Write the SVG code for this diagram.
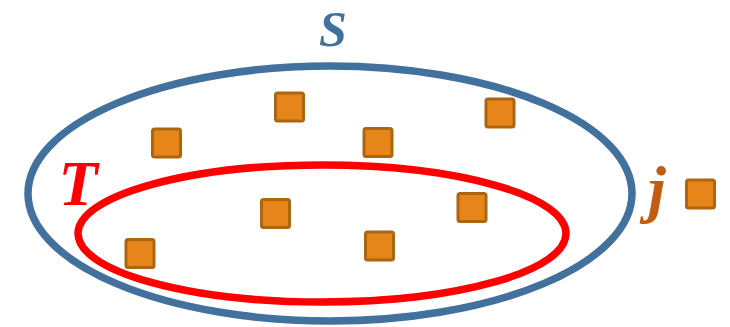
<svg xmlns="http://www.w3.org/2000/svg" width="730" height="327" viewBox="0 0 730 327">
<style>
.sq{fill:#E5851A;stroke:#AD6510;stroke-width:3}
.lbl{font-family:"Liberation Serif",serif;font-weight:bold;font-style:italic;text-anchor:middle}
</style>
<rect width="730" height="327" fill="#fff"/>
<g id="S">
<ellipse cx="330" cy="193.5" rx="302" ry="127.5" fill="none" stroke="#41719C" stroke-width="7.5"/>
<text class="lbl" x="333" y="46" font-size="50" fill="#41719C">S</text>
</g>
<g id="T">
<ellipse cx="322" cy="233.5" rx="244" ry="68.5" fill="none" stroke="#FF0000" stroke-width="7.5"/>
<text class="lbl" x="78" y="205" font-size="64" fill="#FF0000">T</text>
</g>
<g id="j">
<rect class="sq" x="686.5" y="180" width="28" height="28" rx="2"/>
<text class="lbl" x="657" y="210" font-size="64" fill="#C55A11">j</text>
</g>
<g id="elements">
<rect class="sq" x="152.5" y="129" width="28" height="28" rx="2"/>
<rect class="sq" x="275.5" y="93" width="28" height="28" rx="2"/>
<rect class="sq" x="364" y="128.5" width="28" height="28" rx="2"/>
<rect class="sq" x="486" y="99" width="28" height="28" rx="2"/>
<rect class="sq" x="261.5" y="199.5" width="28" height="28" rx="2"/>
<rect class="sq" x="458" y="193.5" width="28" height="28" rx="2"/>
<rect class="sq" x="126" y="239.5" width="28" height="28" rx="2"/>
<rect class="sq" x="365.5" y="232" width="28" height="28" rx="2"/>
</g>
</svg>
